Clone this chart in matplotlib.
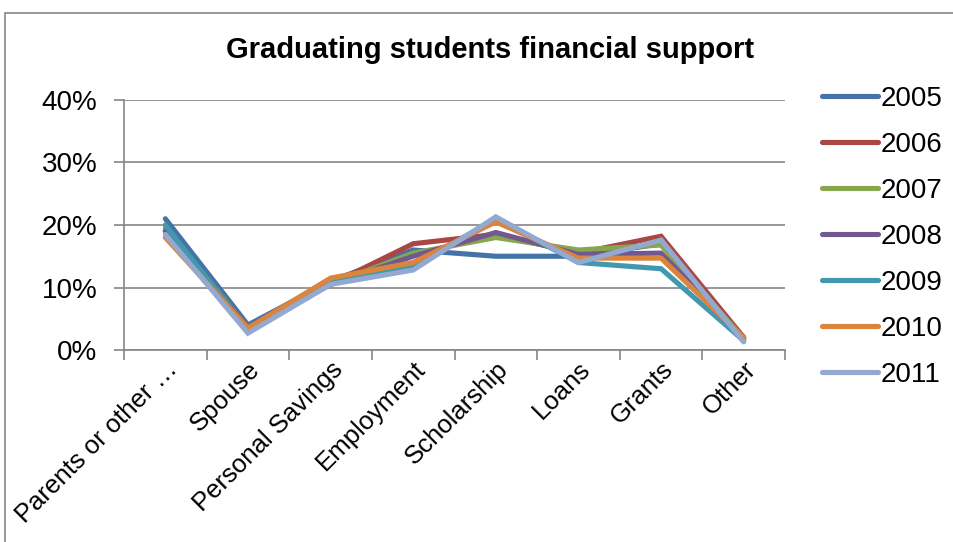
import matplotlib.pyplot as plt
from matplotlib.patches import Rectangle
from matplotlib.ticker import FixedLocator, PercentFormatter

plt.rcParams["font.family"] = ["Liberation Sans", "DejaVu Sans"]

categories = ["Parents or other …", "Spouse", "Personal Savings", "Employment",
              "Scholarship", "Loans", "Grants", "Other"]
years = ["2005", "2006", "2007", "2008", "2009", "2010", "2011"]

# share of graduating students (%) per support source, one list per year
y2005 = [21.0, 4.0, 11.0, 16.0, 15.0, 15.0, 17.0, 2.0]
y2006 = [19.0, 3.5, 10.5, 17.0, 18.5, 15.5, 18.2, 2.0]
y2007 = [19.5, 3.5, 10.5, 15.5, 18.0, 16.0, 16.8, 1.8]
y2008 = [19.0, 3.5, 10.5, 15.0, 18.8, 15.3, 15.5, 1.8]
y2009 = [20.0, 3.0, 11.0, 13.4, 21.0, 14.0, 13.0, 1.5]
y2010 = [18.0, 3.5, 11.5, 14.0, 20.5, 14.7, 14.7, 2.0]
y2011 = [18.5, 2.7, 10.5, 12.8, 21.3, 14.0, 17.6, 1.3]
series = [y2005, y2006, y2007, y2008, y2009, y2010, y2011]

colors = ["#4572A7", "#AA4643", "#89A54E", "#71588F", "#4198AF", "#DB843D", "#93A9CF"]

fig = plt.figure(figsize=(9.54, 5.42), dpi=100)
fig.patches.append(Rectangle((5 / 954, -0.1), 1.2, (542 - 13) / 542 + 0.1,
                             transform=fig.transFigure, fill=False,
                             edgecolor="#868686", linewidth=1.2))

ax = fig.add_axes([124 / 954, 192 / 542, 661 / 954, 250 / 542])
x = [i + 0.5 for i in range(len(categories))]
for vals, year, c in zip(series, years, colors):
    ax.plot(x, vals, color=c, linewidth=3.7, solid_capstyle="round",
            solid_joinstyle="miter", label=year)

ax.set_xlim(0, len(categories))
ax.set_ylim(0, 40)
ax.yaxis.set_major_locator(FixedLocator([0, 10, 20, 30, 40]))
ax.yaxis.set_major_formatter(PercentFormatter(decimals=0))
ax.grid(axis="y", color="#868686", linewidth=1.2)
ax.set_axisbelow(True)

ax.set_xticks(x)
ax.set_xticklabels(categories, rotation=45, ha="right", va="top",
                   rotation_mode="anchor")
ax.xaxis.set_minor_locator(FixedLocator(range(len(categories) + 1)))
ax.tick_params(axis="x", which="major", length=0, pad=5, labelsize=18.5)
ax.tick_params(axis="x", which="minor", length=7, width=1.2, color="#868686")
ax.tick_params(axis="y", length=7, width=1.2, color="#868686", pad=12, labelsize=20)

for side in ["top", "right"]:
    ax.spines[side].set_visible(False)
for side in ["left", "bottom"]:
    ax.spines[side].set_color("#868686")
    ax.spines[side].set_linewidth(1.2)

fig.text(490 / 954, (542 - 50) / 542, "Graduating students financial support",
         ha="center", va="center", fontsize=21, fontweight="bold")

fig.legend(loc="upper left", bbox_to_anchor=(822 / 954, 1 - 86 / 542),
           bbox_transform=fig.transFigure, frameon=False, fontsize=20,
           handlelength=2.0, handletextpad=0.1, labelspacing=0.72,
           borderaxespad=0, borderpad=0)

fig.savefig("out.png", dpi=100)
